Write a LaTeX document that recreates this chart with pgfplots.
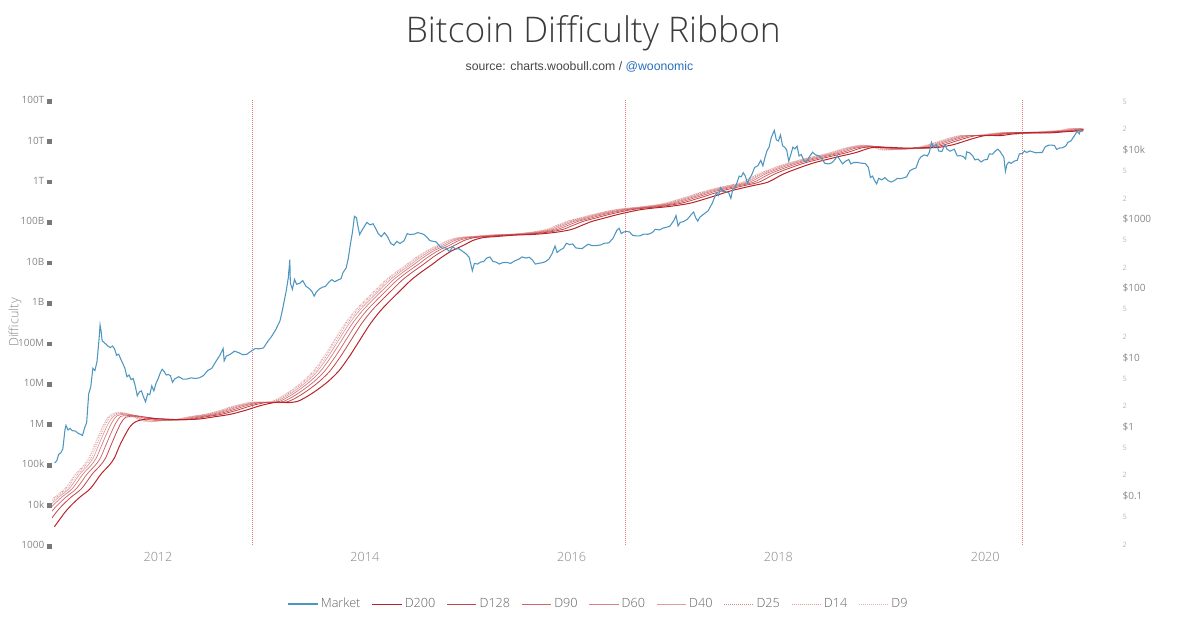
\documentclass[border=0pt]{standalone}
\usepackage{fontspec}
\setmainfont{Open Sans}
\newfontfamily\arialf{Liberation Sans}
\IfFontExistsTF{Open Sans Light}{\newfontfamily\titlef{Open Sans Light}}{\newfontfamily\titlef{Open Sans}}
\usepackage{pgfplots}
\pgfplotsset{compat=1.18}
\definecolor{tickgrey}{RGB}{135,135,135}
\definecolor{sqgrey}{RGB}{120,120,120}
\definecolor{minorgrey}{RGB}{185,185,185}
\definecolor{leggrey}{RGB}{100,100,100}
\definecolor{mkt}{RGB}{78,150,192}
\definecolor{rib}{RGB}{185,35,40}
\definecolor{halv}{RGB}{236,120,130}
\definecolor{titlegrey}{RGB}{60,60,60}
\definecolor{subgrey}{RGB}{70,70,70}
\definecolor{linkblue}{RGB}{40,110,190}
\newcommand{\sq}{\hspace{2pt}\textcolor{sqgrey}{\rule{3.6pt}{3.6pt}}}
\newcommand{\mn}[1]{{\fontsize{5.5}{6}\selectfont\color{minorgrey}#1}}
\newcommand{\mj}[1]{{\fontsize{7.5}{9}\selectfont\color{tickgrey}#1}}
\tikzset{dotl/.style={dash pattern=on 0.6pt off 0.9pt}}

\begin{document}
\begin{tikzpicture}
\useasboundingbox (0,0) rectangle (900pt,474.75pt);
\node[font=\titlef\fontsize{26.5}{30}\selectfont, text=titlegrey] at (445pt,450pt) {Bitcoin Difficulty Ribbon};
\node[font=\arialf\fontsize{9.2}{11}\selectfont, text=subgrey] at (434.6pt,424.5pt) {source: charts.woobull.com / \textcolor{linkblue}{@woonomic}};

\begin{axis}[
 at={(39pt,66pt)}, anchor=south west,
 scale only axis, width=774.75pt, height=333.75pt,
 xmin=2010.975, xmax=2020.965,
 ymode=log, ymin=1e3, ymax=1e14,
 axis x line*=bottom, axis y line*=left,
 axis line style={draw=none},
 major tick length=0pt, minor tick length=0pt,
 xtick={2012,2014,2016,2018,2020},
 xticklabels={2012,2014,2016,2018,2020},
 x tick label style={font=\titlef\fontsize{9.5}{10}\selectfont, text=tickgrey, yshift=-2pt},
 ytick={1e3,1e4,1e5,1e6,1e7,1e8,1e9,1e10,1e11,1e12,1e13,1e14},
 yticklabels={1000\sq,10k\sq,100k\sq,1M\sq,10M\sq,100M\sq,1B\sq,10B\sq,100B\sq,1T\sq,10T\sq,100T\sq},
 y tick label style={font=\fontsize{7.5}{9}\selectfont, text=tickgrey, anchor=east, inner sep=0pt},
 ylabel={Difficulty},
 every axis y label/.style={at={(rel axis cs:-0.0358,0.5)}, rotate=90, anchor=center, font=\titlef\fontsize{9.5}{10}\selectfont, text=tickgrey},
 legend columns=9,
 legend style={at={(0.5295,-0.1326)}, anchor=center, draw=none, fill=none,
   font=\titlef\fontsize{9.5}{11}\selectfont, text=leggrey,
   /tikz/every even column/.append style={column sep=6.5pt}},
 legend image code/.code={\draw[#1] (0pt,0pt) -- (22pt,0pt);},
]
% halvings
\addplot[halv, line width=0.45pt, dotl, forget plot] coordinates {(2012.91,1e3) (2012.91,1e14)};
\addplot[halv, line width=0.45pt, dotl, forget plot] coordinates {(2016.52,1e3) (2016.52,1e14)};
\addplot[halv, line width=0.45pt, dotl, forget plot] coordinates {(2020.36,1e3) (2020.36,1e14)};
% D9
\addplot[rib!35, line width=0.5pt, dotl, smooth, forget plot] coordinates {
(2010.75,2.82e3)(2010.85,6.31e3)(2010.92,1.00e4)(2011.00,1.55e4)(2011.10,2.51e4)(2011.20,5.62e4)(2011.28,9.33e4)(2011.33,1.41e5)(2011.38,2.82e5)(2011.43,5.62e5)(2011.48,1.05e6)(2011.53,1.58e6)(2011.60,1.91e6)(2011.68,1.82e6)(2011.76,1.48e6)(2011.84,1.17e6)(2011.92,1.10e6)(2012.00,1.17e6)(2012.15,1.26e6)(2012.30,1.48e6)(2012.45,1.70e6)(2012.60,2.14e6)(2012.75,2.82e6)(2012.90,3.39e6)(2013.00,3.31e6)(2013.10,3.55e6)(2013.20,4.79e6)(2013.30,7.08e6)(2013.40,1.12e7)(2013.50,2.00e7)(2013.60,4.47e7)(2013.70,1.12e8)(2013.80,2.82e8)(2013.90,6.03e8)(2014.00,1.12e9)(2014.10,2.00e9)(2014.20,3.55e9)(2014.30,5.62e9)(2014.40,8.51e9)(2014.50,1.32e10)(2014.60,1.91e10)(2014.70,2.51e10)(2014.80,3.39e10)(2014.90,3.98e10)(2015.00,4.17e10)(2015.20,4.57e10)(2015.40,4.79e10)(2015.60,5.37e10)(2015.75,6.31e10)(2015.85,7.94e10)(2015.95,1.00e11)(2016.05,1.17e11)(2016.20,1.48e11)(2016.40,1.91e11)(2016.55,2.14e11)(2016.70,2.34e11)(2016.90,2.82e11)(2017.10,3.98e11)(2017.30,5.75e11)(2017.50,7.59e11)(2017.65,9.33e11)(2017.80,1.48e12)(2017.95,2.09e12)(2018.10,2.82e12)(2018.30,3.80e12)(2018.50,5.01e12)(2018.65,6.61e12)(2018.80,7.76e12)(2018.90,6.92e12)(2019.00,5.75e12)(2019.15,6.03e12)(2019.30,6.46e12)(2019.45,7.94e12)(2019.60,1.05e13)(2019.75,1.32e13)(2019.90,1.32e13)(2020.05,1.48e13)(2020.20,1.58e13)(2020.28,1.41e13)(2020.40,1.55e13)(2020.55,1.66e13)(2020.70,1.74e13)(2020.80,1.95e13)(2020.88,1.86e13)(2020.95,1.86e13)};
% D14
\addplot[rib!45, line width=0.5pt, dotl, smooth, forget plot] coordinates {
(2010.758,2.82e3)(2010.858,6.31e3)(2010.928,1.00e4)(2011.008,1.55e4)(2011.108,2.51e4)(2011.208,5.62e4)(2011.288,9.33e4)(2011.338,1.41e5)(2011.388,2.82e5)(2011.438,5.62e5)(2011.488,1.05e6)(2011.538,1.58e6)(2011.608,1.88e6)(2011.688,1.81e6)(2011.768,1.48e6)(2011.848,1.18e6)(2011.928,1.11e6)(2012.008,1.17e6)(2012.158,1.26e6)(2012.308,1.48e6)(2012.458,1.70e6)(2012.608,2.14e6)(2012.758,2.82e6)(2012.908,3.39e6)(2013.008,3.31e6)(2013.108,3.55e6)(2013.208,4.79e6)(2013.308,7.08e6)(2013.408,1.12e7)(2013.508,2.00e7)(2013.608,4.47e7)(2013.708,1.12e8)(2013.808,2.82e8)(2013.908,6.03e8)(2014.008,1.12e9)(2014.108,2.00e9)(2014.208,3.55e9)(2014.308,5.62e9)(2014.408,8.51e9)(2014.508,1.32e10)(2014.608,1.91e10)(2014.708,2.51e10)(2014.808,3.39e10)(2014.908,3.98e10)(2015.008,4.17e10)(2015.208,4.57e10)(2015.408,4.79e10)(2015.608,5.37e10)(2015.758,6.31e10)(2015.858,7.94e10)(2015.958,1.00e11)(2016.058,1.17e11)(2016.208,1.48e11)(2016.408,1.91e11)(2016.558,2.14e11)(2016.708,2.34e11)(2016.908,2.82e11)(2017.108,3.98e11)(2017.308,5.75e11)(2017.508,7.59e11)(2017.658,9.33e11)(2017.808,1.48e12)(2017.958,2.09e12)(2018.108,2.82e12)(2018.308,3.80e12)(2018.508,5.01e12)(2018.658,6.61e12)(2018.808,7.67e12)(2018.908,7.00e12)(2019.008,5.82e12)(2019.158,6.03e12)(2019.308,6.46e12)(2019.458,7.94e12)(2019.608,1.05e13)(2019.758,1.32e13)(2019.908,1.32e13)(2020.058,1.48e13)(2020.208,1.58e13)(2020.288,1.42e13)(2020.408,1.55e13)(2020.558,1.66e13)(2020.708,1.74e13)(2020.808,1.95e13)(2020.888,1.86e13)(2020.95,1.86e13)};
% D25
\addplot[rib!55, line width=0.5pt, dotl, smooth, forget plot] coordinates {
(2010.773,2.82e3)(2010.873,6.31e3)(2010.943,1.00e4)(2011.023,1.55e4)(2011.123,2.51e4)(2011.223,5.62e4)(2011.303,9.33e4)(2011.353,1.41e5)(2011.403,2.82e5)(2011.453,5.62e5)(2011.503,1.05e6)(2011.553,1.58e6)(2011.623,1.84e6)(2011.70,1.78e6)(2011.78,1.48e6)(2011.86,1.20e6)(2011.94,1.12e6)(2012.02,1.17e6)(2012.173,1.26e6)(2012.323,1.48e6)(2012.473,1.70e6)(2012.623,2.14e6)(2012.773,2.82e6)(2012.923,3.39e6)(2013.023,3.31e6)(2013.123,3.55e6)(2013.223,4.79e6)(2013.323,7.08e6)(2013.423,1.12e7)(2013.523,2.00e7)(2013.623,4.47e7)(2013.723,1.12e8)(2013.823,2.82e8)(2013.923,6.03e8)(2014.023,1.12e9)(2014.123,2.00e9)(2014.223,3.55e9)(2014.323,5.62e9)(2014.423,8.51e9)(2014.523,1.32e10)(2014.623,1.91e10)(2014.723,2.51e10)(2014.823,3.39e10)(2014.923,3.98e10)(2015.023,4.17e10)(2015.223,4.57e10)(2015.423,4.79e10)(2015.623,5.37e10)(2015.773,6.31e10)(2015.873,7.94e10)(2015.973,1.00e11)(2016.073,1.17e11)(2016.223,1.48e11)(2016.423,1.91e11)(2016.573,2.14e11)(2016.723,2.34e11)(2016.923,2.82e11)(2017.123,3.98e11)(2017.323,5.75e11)(2017.523,7.59e11)(2017.673,9.33e11)(2017.823,1.48e12)(2017.973,2.09e12)(2018.123,2.82e12)(2018.323,3.80e12)(2018.523,5.01e12)(2018.673,6.61e12)(2018.823,7.59e12)(2018.923,7.00e12)(2019.023,5.89e12)(2019.173,6.03e12)(2019.323,6.46e12)(2019.473,7.94e12)(2019.623,1.05e13)(2019.773,1.32e13)(2019.923,1.32e13)(2020.073,1.48e13)(2020.223,1.58e13)(2020.303,1.44e13)(2020.423,1.55e13)(2020.573,1.66e13)(2020.723,1.74e13)(2020.823,1.95e13)(2020.903,1.86e13)(2020.95,1.86e13)};
% D40
\addplot[rib!45, line width=0.5pt, smooth, forget plot] coordinates {
(2010.793,2.82e3)(2010.893,6.31e3)(2010.963,1.00e4)(2011.043,1.55e4)(2011.143,2.51e4)(2011.243,5.62e4)(2011.323,9.33e4)(2011.373,1.41e5)(2011.423,2.82e5)(2011.473,5.62e5)(2011.523,1.05e6)(2011.573,1.55e6)(2011.64,1.78e6)(2011.72,1.70e6)(2011.80,1.45e6)(2011.88,1.20e6)(2011.96,1.15e6)(2012.04,1.19e6)(2012.193,1.26e6)(2012.343,1.48e6)(2012.493,1.70e6)(2012.643,2.14e6)(2012.793,2.82e6)(2012.943,3.39e6)(2013.043,3.31e6)(2013.143,3.55e6)(2013.243,4.79e6)(2013.343,7.08e6)(2013.443,1.12e7)(2013.543,2.00e7)(2013.643,4.47e7)(2013.743,1.12e8)(2013.843,2.82e8)(2013.943,6.03e8)(2014.043,1.12e9)(2014.143,2.00e9)(2014.243,3.55e9)(2014.343,5.62e9)(2014.443,8.51e9)(2014.543,1.32e10)(2014.643,1.91e10)(2014.743,2.51e10)(2014.843,3.39e10)(2014.943,3.98e10)(2015.043,4.17e10)(2015.243,4.57e10)(2015.443,4.79e10)(2015.643,5.37e10)(2015.793,6.31e10)(2015.893,7.94e10)(2015.993,1.00e11)(2016.093,1.17e11)(2016.243,1.48e11)(2016.443,1.91e11)(2016.593,2.14e11)(2016.743,2.34e11)(2016.943,2.82e11)(2017.143,3.98e11)(2017.343,5.75e11)(2017.543,7.59e11)(2017.693,9.33e11)(2017.843,1.48e12)(2017.993,2.09e12)(2018.143,2.82e12)(2018.343,3.80e12)(2018.543,5.01e12)(2018.693,6.61e12)(2018.843,7.50e12)(2018.943,6.92e12)(2019.043,6.03e12)(2019.193,6.10e12)(2019.343,6.46e12)(2019.493,7.94e12)(2019.643,1.05e13)(2019.793,1.32e13)(2019.943,1.32e13)(2020.093,1.48e13)(2020.243,1.58e13)(2020.323,1.47e13)(2020.443,1.55e13)(2020.593,1.66e13)(2020.743,1.74e13)(2020.843,1.95e13)(2020.923,1.86e13)(2020.95,1.86e13)};
% D60
\addplot[rib!58, line width=0.55pt, smooth, forget plot] coordinates {
(2010.823,2.82e3)(2010.923,6.31e3)(2010.993,1.00e4)(2011.073,1.55e4)(2011.173,2.51e4)(2011.273,5.62e4)(2011.353,9.33e4)(2011.403,1.41e5)(2011.453,2.82e5)(2011.503,5.62e5)(2011.553,1.05e6)(2011.603,1.55e6)(2011.67,1.70e6)(2011.75,1.66e6)(2011.83,1.45e6)(2011.91,1.26e6)(2011.99,1.19e6)(2012.07,1.20e6)(2012.223,1.26e6)(2012.373,1.48e6)(2012.523,1.70e6)(2012.673,2.14e6)(2012.823,2.82e6)(2012.973,3.39e6)(2013.073,3.31e6)(2013.173,3.55e6)(2013.273,4.79e6)(2013.373,7.08e6)(2013.473,1.12e7)(2013.573,2.00e7)(2013.673,4.47e7)(2013.773,1.12e8)(2013.873,2.82e8)(2013.973,6.03e8)(2014.073,1.12e9)(2014.173,2.00e9)(2014.273,3.55e9)(2014.373,5.62e9)(2014.473,8.51e9)(2014.573,1.32e10)(2014.673,1.91e10)(2014.773,2.51e10)(2014.873,3.39e10)(2014.973,3.98e10)(2015.073,4.17e10)(2015.273,4.57e10)(2015.473,4.79e10)(2015.673,5.37e10)(2015.823,6.31e10)(2015.923,7.94e10)(2016.023,1.00e11)(2016.123,1.17e11)(2016.273,1.48e11)(2016.473,1.91e11)(2016.623,2.14e11)(2016.773,2.34e11)(2016.973,2.82e11)(2017.173,3.98e11)(2017.373,5.75e11)(2017.573,7.59e11)(2017.723,9.33e11)(2017.873,1.48e12)(2018.023,2.09e12)(2018.173,2.82e12)(2018.373,3.80e12)(2018.573,5.01e12)(2018.723,6.61e12)(2018.873,7.33e12)(2018.973,6.84e12)(2019.073,6.17e12)(2019.223,6.17e12)(2019.373,6.46e12)(2019.523,7.94e12)(2019.673,1.05e13)(2019.823,1.32e13)(2019.973,1.32e13)(2020.123,1.48e13)(2020.273,1.58e13)(2020.353,1.49e13)(2020.473,1.55e13)(2020.623,1.66e13)(2020.773,1.74e13)(2020.873,1.95e13)(2020.95,1.87e13)};
% D90
\addplot[rib!70, line width=0.55pt, smooth, forget plot] coordinates {
(2010.863,2.82e3)(2010.963,6.31e3)(2011.033,1.00e4)(2011.113,1.55e4)(2011.213,2.51e4)(2011.313,5.62e4)(2011.393,9.33e4)(2011.443,1.41e5)(2011.493,2.82e5)(2011.543,5.62e5)(2011.593,1.05e6)(2011.64,1.51e6)(2011.71,1.58e6)(2011.79,1.58e6)(2011.87,1.45e6)(2011.95,1.29e6)(2012.03,1.23e6)(2012.11,1.23e6)(2012.263,1.26e6)(2012.413,1.48e6)(2012.563,1.70e6)(2012.713,2.14e6)(2012.863,2.82e6)(2013.013,3.39e6)(2013.113,3.31e6)(2013.213,3.55e6)(2013.313,4.79e6)(2013.413,7.08e6)(2013.513,1.12e7)(2013.613,2.00e7)(2013.713,4.47e7)(2013.813,1.12e8)(2013.913,2.82e8)(2014.013,6.03e8)(2014.113,1.12e9)(2014.213,2.00e9)(2014.313,3.55e9)(2014.413,5.62e9)(2014.513,8.51e9)(2014.613,1.32e10)(2014.713,1.91e10)(2014.813,2.51e10)(2014.913,3.39e10)(2015.013,3.98e10)(2015.113,4.17e10)(2015.313,4.57e10)(2015.513,4.79e10)(2015.713,5.37e10)(2015.863,6.31e10)(2015.963,7.94e10)(2016.063,1.00e11)(2016.163,1.17e11)(2016.313,1.48e11)(2016.513,1.91e11)(2016.663,2.14e11)(2016.813,2.34e11)(2017.013,2.82e11)(2017.213,3.98e11)(2017.413,5.75e11)(2017.613,7.59e11)(2017.763,9.33e11)(2017.913,1.48e12)(2018.063,2.09e12)(2018.213,2.82e12)(2018.413,3.80e12)(2018.613,5.01e12)(2018.763,6.61e12)(2018.913,7.16e12)(2019.013,6.76e12)(2019.113,6.24e12)(2019.263,6.31e12)(2019.413,6.46e12)(2019.563,7.94e12)(2019.713,1.05e13)(2019.863,1.32e13)(2020.013,1.32e13)(2020.163,1.48e13)(2020.313,1.58e13)(2020.393,1.51e13)(2020.513,1.55e13)(2020.663,1.66e13)(2020.813,1.74e13)(2020.913,1.95e13)(2020.95,1.90e13)};
% D128
\addplot[rib!85, line width=0.6pt, smooth, forget plot] coordinates {
(2010.913,2.82e3)(2011.013,6.31e3)(2011.083,1.00e4)(2011.163,1.55e4)(2011.263,2.51e4)(2011.363,5.62e4)(2011.443,9.33e4)(2011.493,1.41e5)(2011.543,2.82e5)(2011.593,5.62e5)(2011.643,1.05e6)(2011.69,1.45e6)(2011.76,1.48e6)(2011.84,1.48e6)(2011.92,1.41e6)(2012.00,1.32e6)(2012.08,1.26e6)(2012.16,1.26e6)(2012.313,1.27e6)(2012.463,1.48e6)(2012.613,1.70e6)(2012.763,2.14e6)(2012.913,2.82e6)(2013.063,3.39e6)(2013.163,3.31e6)(2013.263,3.55e6)(2013.363,4.79e6)(2013.463,7.08e6)(2013.563,1.12e7)(2013.663,2.00e7)(2013.763,4.47e7)(2013.863,1.12e8)(2013.963,2.82e8)(2014.063,6.03e8)(2014.163,1.12e9)(2014.263,2.00e9)(2014.363,3.55e9)(2014.463,5.62e9)(2014.563,8.51e9)(2014.663,1.32e10)(2014.763,1.91e10)(2014.863,2.51e10)(2014.963,3.39e10)(2015.063,3.98e10)(2015.163,4.17e10)(2015.363,4.57e10)(2015.563,4.79e10)(2015.763,5.37e10)(2015.913,6.31e10)(2016.013,7.94e10)(2016.113,1.00e11)(2016.213,1.17e11)(2016.363,1.48e11)(2016.563,1.91e11)(2016.713,2.14e11)(2016.863,2.34e11)(2017.063,2.82e11)(2017.263,3.98e11)(2017.463,5.75e11)(2017.663,7.59e11)(2017.813,9.33e11)(2017.963,1.48e12)(2018.113,2.09e12)(2018.263,2.82e12)(2018.463,3.80e12)(2018.663,5.01e12)(2018.813,6.61e12)(2018.963,7.00e12)(2019.063,6.68e12)(2019.163,6.38e12)(2019.313,6.46e12)(2019.463,6.46e12)(2019.613,7.94e12)(2019.763,1.05e13)(2019.913,1.32e13)(2020.063,1.32e13)(2020.213,1.48e13)(2020.363,1.58e13)(2020.443,1.53e13)(2020.563,1.55e13)(2020.713,1.66e13)(2020.863,1.74e13)(2020.95,1.90e13)};
% D200
\addplot[rib, line width=0.75pt, smooth, forget plot] coordinates {
(2010.998,2.82e3)(2011.098,6.31e3)(2011.168,1.00e4)(2011.248,1.55e4)(2011.348,2.51e4)(2011.448,5.62e4)(2011.528,9.33e4)(2011.578,1.41e5)(2011.628,2.82e5)(2011.678,5.01e5)(2011.728,8.32e5)(2011.78,1.10e6)(2011.85,1.26e6)(2011.93,1.32e6)(2012.01,1.32e6)(2012.09,1.29e6)(2012.17,1.26e6)(2012.25,1.26e6)(2012.398,1.30e6)(2012.548,1.48e6)(2012.698,1.70e6)(2012.848,2.14e6)(2012.998,2.82e6)(2013.148,3.39e6)(2013.248,3.31e6)(2013.348,3.55e6)(2013.448,4.79e6)(2013.548,7.08e6)(2013.648,1.12e7)(2013.748,2.00e7)(2013.848,4.47e7)(2013.948,1.12e8)(2014.048,2.82e8)(2014.148,6.03e8)(2014.248,1.12e9)(2014.348,2.00e9)(2014.448,3.55e9)(2014.548,5.62e9)(2014.648,8.51e9)(2014.748,1.32e10)(2014.848,1.91e10)(2014.948,2.51e10)(2015.048,3.39e10)(2015.148,3.98e10)(2015.248,4.17e10)(2015.448,4.57e10)(2015.648,4.79e10)(2015.848,5.37e10)(2015.998,6.31e10)(2016.098,7.94e10)(2016.198,1.00e11)(2016.298,1.17e11)(2016.448,1.48e11)(2016.648,1.91e11)(2016.798,2.14e11)(2016.948,2.34e11)(2017.148,2.82e11)(2017.348,3.98e11)(2017.548,5.75e11)(2017.748,7.59e11)(2017.898,9.33e11)(2018.048,1.48e12)(2018.198,2.09e12)(2018.348,2.82e12)(2018.548,3.80e12)(2018.748,5.01e12)(2018.898,6.61e12)(2019.048,6.76e12)(2019.148,6.61e12)(2019.248,6.46e12)(2019.398,6.61e12)(2019.548,6.76e12)(2019.698,7.94e12)(2019.848,1.05e13)(2019.998,1.32e13)(2020.148,1.32e13)(2020.298,1.48e13)(2020.448,1.58e13)(2020.528,1.55e13)(2020.648,1.55e13)(2020.798,1.66e13)(2020.95,1.74e13)};
% legend entries
\addlegendimage{mkt, line width=0.8pt}\addlegendentry{Market}
\addlegendimage{rib, line width=0.75pt}\addlegendentry{D200}
\addlegendimage{rib!85, line width=0.6pt}\addlegendentry{D128}
\addlegendimage{rib!70, line width=0.55pt}\addlegendentry{D90}
\addlegendimage{rib!58, line width=0.55pt}\addlegendentry{D60}
\addlegendimage{rib!45, line width=0.5pt}\addlegendentry{D40}
\addlegendimage{rib!55, line width=0.5pt, dotl}\addlegendentry{D25}
\addlegendimage{rib!45, line width=0.5pt, dotl}\addlegendentry{D14}
\addlegendimage{rib!35, line width=0.5pt, dotl}\addlegendentry{D9}
\end{axis}

\begin{axis}[
 at={(39pt,66pt)}, anchor=south west,
 scale only axis, width=774.75pt, height=333.75pt,
 xmin=2010.975, xmax=2020.965,
 ymode=log, ymin=0.0196, ymax=52800,
 axis x line=none, axis y line*=right,
 axis line style={draw=none},
 major tick length=0pt, minor tick length=0pt,
 ytick={0.02,0.05,0.1,0.2,0.5,1,2,5,10,20,50,100,200,500,1000,2000,5000,10000,20000,50000},
 yticklabels={\mn{2},\mn{5},\mj{\$0.1},\mn{2},\mn{5},\mj{\$1},\mn{2},\mn{5},\mj{\$10},\mn{2},\mn{5},\mj{\$100},\mn{2},\mn{5},\mj{\$1000},\mn{2},\mn{5},\mj{\$10k},\mn{2},\mn{5}},
 y tick label style={anchor=west, xshift=28pt, inner sep=0pt},
]
\addplot[mkt, line width=0.8pt] coordinates {
(2011.00,0.30)(2011.02,0.32)(2011.04,0.40)(2011.06,0.42)(2011.08,0.48)(2011.10,0.90)(2011.11,1.05)(2011.13,0.90)(2011.15,0.95)(2011.17,0.88)(2011.20,0.87)(2011.23,0.80)(2011.25,0.78)(2011.27,0.75)(2011.29,0.96)(2011.31,1.15)(2011.33,3.0)(2011.35,3.8)(2011.37,7.0)(2011.39,6.5)(2011.41,8.7)(2011.43,18.5)(2011.44,29.6)(2011.45,24)(2011.46,17.5)(2011.48,16.5)(2011.50,15.5)(2011.52,14.5)(2011.54,14.0)(2011.56,14.7)(2011.58,13.4)(2011.60,10.8)(2011.62,11.2)(2011.64,9.5)(2011.66,8.2)(2011.68,7.0)(2011.70,5.3)(2011.72,5.6)(2011.74,4.8)(2011.76,5.0)(2011.78,3.9)(2011.80,2.8)(2011.82,3.2)(2011.84,3.3)(2011.86,2.7)(2011.88,2.3)(2011.90,3.0)(2011.92,2.9)(2011.94,3.9)(2011.96,3.3)(2011.98,4.2)(2012.00,4.9)(2012.02,5.9)(2012.04,6.8)(2012.06,6.3)(2012.08,5.6)(2012.10,5.7)(2012.12,5.5)(2012.14,4.4)(2012.16,4.9)(2012.20,5.3)(2012.24,4.9)(2012.28,4.9)(2012.32,5.1)(2012.36,5.0)(2012.40,5.1)(2012.44,5.5)(2012.48,6.5)(2012.52,7.0)(2012.56,8.8)(2012.60,10.9)(2012.63,13.5)(2012.64,9.0)(2012.66,10.5)(2012.70,11.2)(2012.74,12.4)(2012.78,11.8)(2012.82,11.0)(2012.86,11.2)(2012.90,12.4)(2012.94,13.5)(2012.98,13.4)(2013.02,13.8)(2013.06,17.0)(2013.10,20.4)(2013.14,25.5)(2013.18,34)(2013.20,46)(2013.22,65)(2013.24,92)(2013.26,142)(2013.275,260)(2013.28,120)(2013.30,97)(2013.32,135)(2013.34,115)(2013.37,118)(2013.40,130)(2013.43,108)(2013.46,100)(2013.49,90)(2013.51,77)(2013.53,88)(2013.56,98)(2013.59,104)(2013.62,107)(2013.65,122)(2013.68,134)(2013.71,125)(2013.74,132)(2013.77,138)(2013.79,170)(2013.82,198)(2013.84,270)(2013.86,430)(2013.88,640)(2013.90,1100)(2013.92,1050)(2013.93,840)(2013.95,600)(2013.97,680)(2013.99,760)(2014.02,900)(2014.05,830)(2014.08,860)(2014.11,710)(2014.13,620)(2014.16,560)(2014.19,640)(2014.22,560)(2014.25,450)(2014.28,420)(2014.31,480)(2014.34,445)(2014.38,490)(2014.41,620)(2014.44,600)(2014.48,610)(2014.51,640)(2014.55,620)(2014.58,590)(2014.61,530)(2014.63,490)(2014.66,480)(2014.69,470)(2014.72,415)(2014.75,380)(2014.78,390)(2014.82,340)(2014.85,400)(2014.88,370)(2014.91,375)(2014.95,340)(2014.98,315)(2015.01,280)(2015.04,180)(2015.06,230)(2015.09,225)(2015.12,240)(2015.15,245)(2015.18,275)(2015.21,285)(2015.24,245)(2015.27,240)(2015.30,225)(2015.33,235)(2015.37,238)(2015.41,230)(2015.45,250)(2015.49,265)(2015.52,285)(2015.56,275)(2015.59,282)(2015.62,258)(2015.65,225)(2015.68,230)(2015.72,236)(2015.75,245)(2015.78,265)(2015.81,315)(2015.84,410)(2015.86,330)(2015.89,360)(2015.92,380)(2015.95,450)(2015.98,430)(2016.01,440)(2016.04,385)(2016.07,380)(2016.10,375)(2016.13,405)(2016.16,435)(2016.20,415)(2016.24,415)(2016.28,425)(2016.32,450)(2016.36,455)(2016.40,530)(2016.44,700)(2016.46,740)(2016.48,620)(2016.50,650)(2016.53,665)(2016.56,655)(2016.59,585)(2016.62,575)(2016.66,575)(2016.70,610)(2016.74,605)(2016.78,640)(2016.81,715)(2016.85,700)(2016.88,740)(2016.91,760)(2016.95,790)(2016.99,965)(2017.01,1130)(2017.03,800)(2017.05,900)(2017.08,920)(2017.12,1000)(2017.16,1180)(2017.18,1270)(2017.20,1050)(2017.22,940)(2017.24,1070)(2017.28,1190)(2017.32,1320)(2017.36,1700)(2017.39,2200)(2017.40,2400)(2017.42,2200)(2017.44,2850)(2017.46,2500)(2017.49,2500)(2017.52,2400)(2017.54,2000)(2017.56,2750)(2017.58,2800)(2017.60,3400)(2017.62,4200)(2017.64,4100)(2017.66,4700)(2017.68,4200)(2017.70,3300)(2017.72,3900)(2017.74,4300)(2017.77,5600)(2017.80,5900)(2017.83,7100)(2017.85,5900)(2017.87,7800)(2017.89,9800)(2017.91,11000)(2017.93,15000)(2017.96,19200)(2017.98,14000)(2018.00,13500)(2018.02,16500)(2018.04,11500)(2018.06,11000)(2018.08,10000)(2018.10,6900)(2018.12,8600)(2018.14,11000)(2018.16,10400)(2018.18,11400)(2018.20,8200)(2018.22,8600)(2018.25,6900)(2018.27,6800)(2018.30,8000)(2018.33,9300)(2018.36,8500)(2018.39,8300)(2018.42,7400)(2018.45,6400)(2018.49,6300)(2018.52,6600)(2018.55,7400)(2018.57,8200)(2018.60,7000)(2018.62,6300)(2018.65,6900)(2018.68,7300)(2018.70,6300)(2018.73,6600)(2018.77,6600)(2018.80,6450)(2018.84,6400)(2018.87,5600)(2018.89,4000)(2018.91,4200)(2018.93,3600)(2018.95,3250)(2018.97,3900)(2019.00,3700)(2019.03,4000)(2019.06,3600)(2019.09,3450)(2019.12,3600)(2019.15,3900)(2019.18,3850)(2019.21,3950)(2019.24,4100)(2019.27,5000)(2019.30,5300)(2019.33,5500)(2019.36,7300)(2019.38,8000)(2019.41,8500)(2019.44,8200)(2019.46,9300)(2019.48,12900)(2019.50,11000)(2019.53,12000)(2019.55,9700)(2019.58,9500)(2019.61,11800)(2019.63,10300)(2019.66,9600)(2019.70,10300)(2019.73,8200)(2019.76,8300)(2019.79,8000)(2019.81,7400)(2019.82,9400)(2019.85,9100)(2019.88,8200)(2019.90,7200)(2019.93,7400)(2019.96,6700)(2019.99,7200)(2020.02,7300)(2020.04,8800)(2020.07,8700)(2020.09,9400)(2020.12,10300)(2020.14,9700)(2020.16,8700)(2020.18,7900)(2020.195,4900)(2020.21,6200)(2020.23,6700)(2020.25,6400)(2020.28,6900)(2020.31,7100)(2020.33,8800)(2020.36,8900)(2020.38,9700)(2020.40,9200)(2020.43,9700)(2020.46,9400)(2020.49,9100)(2020.52,9200)(2020.55,9200)(2020.58,11100)(2020.61,11700)(2020.64,11800)(2020.67,11600)(2020.69,10200)(2020.72,10700)(2020.75,10800)(2020.78,11500)(2020.80,12900)(2020.83,13600)(2020.86,15900)(2020.89,18700)(2020.91,17100)(2020.92,19200)(2020.94,18500)};
\end{axis}
\end{tikzpicture}
\end{document}
